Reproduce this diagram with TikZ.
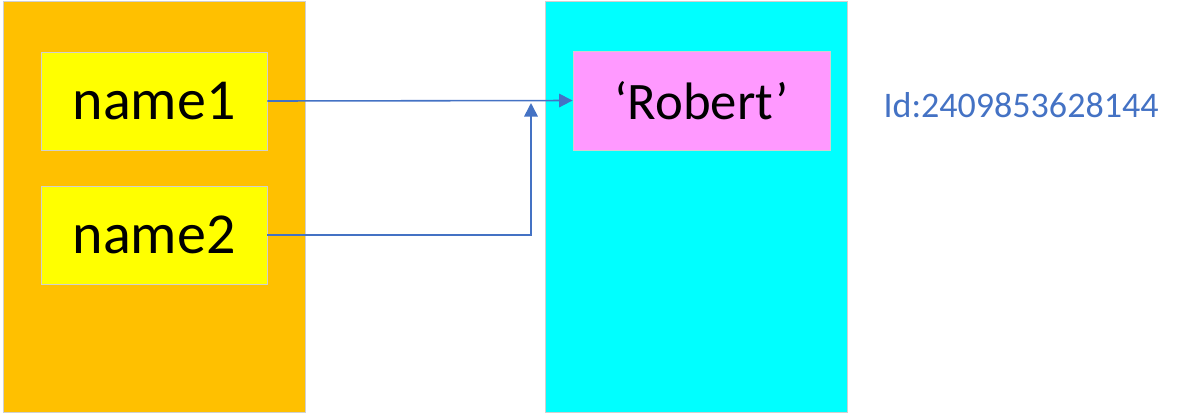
\documentclass[tikz,border=0pt]{standalone}
\usepackage{fontspec}
\setmainfont{Carlito}
\usetikzlibrary{arrows.meta}
\definecolor{framegold}{HTML}{FFC000}
\definecolor{framecyan}{HTML}{00FFFF}
\definecolor{varyellow}{HTML}{FFFF00}
\definecolor{objpink}{HTML}{FF99FF}
\definecolor{refblue}{HTML}{4472C4}
\definecolor{edgegray}{HTML}{D0D0D0}
\begin{document}
\begin{tikzpicture}[x=0.02cm, y=-0.02cm]
        \tikzstyle{frame_box} = [shape = rectangle, draw = edgegray, line width=0.5pt, minimum width=6.04cm, minimum height=8.22cm, inner sep=0pt]
        \tikzstyle{var_box} = [shape = rectangle, draw = edgegray, fill = varyellow, line width=0.5pt, minimum width=4.52cm, minimum height=1.96cm, font=\fontsize{33}{36}\selectfont]
        \tikzstyle{obj_box} = [shape = rectangle, draw = edgegray, fill = objpink, line width=0.5pt, minimum width=5.14cm, minimum height=1.98cm, font=\fontsize{30}{34}\selectfont]
        \tikzstyle{ref_line} = [draw = refblue, line width=0.9pt, -{Triangle[length=0.27cm, width=0.27cm]}]

        \useasboundingbox (0, 0) rectangle (1178, 414);

        \node[frame_box, fill = framegold] at (154, 206.5) (names) {};

        \node[frame_box, fill = framecyan] at (696, 206.5) (objects) {};

        \node[var_box] at (154, 101) (name1) {name1};

        \node[var_box] at (154, 235) (name2) {name2};

        \node[obj_box] at (701.5, 100.5) (robert) {‘Robert’};

        \node[text = refblue, font=\fontsize{20.5}{24}\selectfont] at (1021, 105) (objid) {Id:2409853628144};

        \coordinate (join) at (531, 103);

        \draw[ref_line] (name1.east) -- (robert.west);

        \draw[ref_line] (name2.east) -| (join);
      \end{tikzpicture}
\end{document}
